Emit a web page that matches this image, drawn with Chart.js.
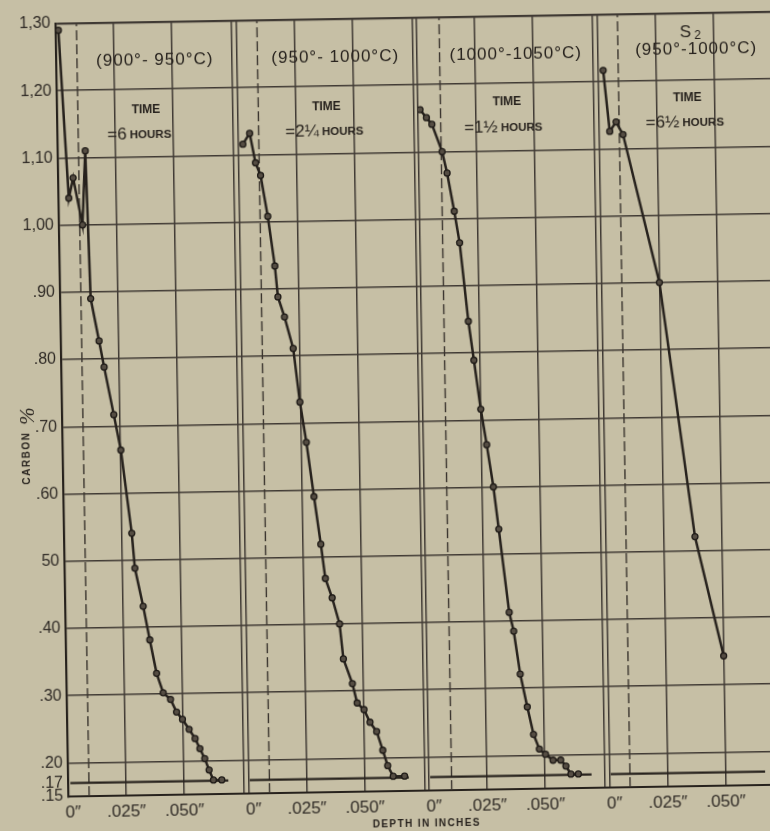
<!DOCTYPE html>
<html>
<head>
<meta charset="utf-8">
<script src="https://cdn.jsdelivr.net/npm/chart.js@4.4.1/dist/chart.umd.min.js"></script>
<style>
    html, body { margin: 0; padding: 0; width: 770px; height: 831px; overflow: hidden; background: #c6bfa5; }
    #wrap { position: absolute; left: 0; top: 0; width: 796px; height: 831px; transform: rotate(-0.95deg); transform-origin: 398px 415px; }
</style>
</head>
<body>
<div id="wrap"><canvas id="carbon-chart" width="796" height="831"></canvas></div>
<script>
// axis ticks
var yTickValues = [1.30, 1.20, 1.10, 1.00, 0.90, 0.80, 0.70, 0.60, 0.50, 0.40, 0.30, 0.20, 0.17, 0.15];
var yTickLabels = ['1,30', '1,20', '1,10', '1,00', '.90', '.80', '.70', '.60', '50', '.40', '.30', '.20', '.17', '.15'];
var xTickValues = [0, 0.025, 0.05];
var xTickLabels = ['  0\u2033', '.025\u2033', '.050\u2033'];

// panel texts
var panelTitles = ['(900\u00b0- 950\u00b0C)', '(950\u00b0- 1000\u00b0C)', '(1000\u00b0-1050\u00b0C)', '(950\u00b0-1000\u00b0C)'];
var panelTimes = ['=6', '=2\u00bc', '=1\u00bd', '=6\u00bd'];
var panelSamples = ['', '', '', 'S'];

// depth (inches) / carbon %
var depth1 = [0.0012, 0.0045, 0.0065, 0.0102, 0.0119, 0.0132, 0.0165, 0.0185, 0.0223, 0.0251, 0.0292, 0.0303, 0.0336, 0.0362, 0.0389, 0.0416, 0.0447, 0.0472, 0.0497, 0.0525, 0.0550, 0.0570, 0.0590, 0.0608, 0.0626, 0.0662];
var carbon1 = [1.29, 1.04, 1.07, 1.00, 1.11, 0.89, 0.827, 0.788, 0.717, 0.664, 0.54, 0.488, 0.431, 0.381, 0.331, 0.302, 0.292, 0.273, 0.262, 0.247, 0.233, 0.218, 0.203, 0.186, 0.171, 0.171];

var depth2 = [0.0021, 0.0051, 0.0074, 0.0095, 0.0123, 0.0150, 0.0161, 0.0188, 0.0223, 0.0248, 0.0273, 0.0302, 0.0328, 0.0345, 0.0373, 0.0403, 0.0417, 0.0454, 0.0473, 0.0502, 0.0527, 0.0555, 0.0580, 0.0600, 0.0623, 0.0672];
var carbon2 = [1.116, 1.132, 1.088, 1.069, 1.008, 0.934, 0.888, 0.858, 0.811, 0.731, 0.671, 0.590, 0.519, 0.468, 0.439, 0.400, 0.348, 0.311, 0.282, 0.272, 0.253, 0.239, 0.211, 0.188, 0.172, 0.172];

var depth3 = [0.0009, 0.0036, 0.0059, 0.0101, 0.0121, 0.0149, 0.0170, 0.0202, 0.0223, 0.0249, 0.0272, 0.0298, 0.0318, 0.0357, 0.0375, 0.0400, 0.0428, 0.0453, 0.0477, 0.0503, 0.0535, 0.0568, 0.0590, 0.0611, 0.0643];
var carbon3 = [1.163, 1.151, 1.141, 1.100, 1.068, 1.011, 0.964, 0.847, 0.789, 0.716, 0.663, 0.600, 0.537, 0.413, 0.385, 0.321, 0.272, 0.231, 0.209, 0.201, 0.192, 0.192, 0.183, 0.171, 0.171];

var depth4 = [0.0023, 0.0047, 0.0075, 0.0104, 0.0250, 0.0385, 0.0500];
var carbon4 = [1.217, 1.126, 1.140, 1.121, 0.900, 0.521, 0.343];

// core carbon line and case mark (dashed) in each panel
var coreCarbon = 0.17;
var coreStart = [0.001, 0.0005, 0.0005, 0.0005];
var coreEnd = [0.069, 0.069, 0.070, 0.067];
var caseMark = [0.009, 0.009, 0.0097, 0.0088];

// layout
var panelSpan = 0.0777;
var dividerDepth = 0.0758;
var ink = '#27221d';
var gridColor = '#403a34';
var labelColor = '#2f2a25';
var noteX = { title: 0.0425, time: 0.0383, hours: [0.0353, 0.0373, 0.0366, 0.0371], sample: 0.0397 };
var noteY = { title: [1.243, 1.243, 1.243, 1.246], time: [1.170, 1.170, 1.173, 1.174], hours: [1.133, 1.133, 1.134, 1.137], sample: 1.271 };

var depths = [depth1, depth2, depth3, depth4];
var carbons = [carbon1, carbon2, carbon3, carbon4];

function zip(xs, ys) {
    return xs.map(function (x, i) { return { x: x, y: ys[i] }; });
}

var datasets = [];
depths.forEach(function (d, i) {
    var axis = 'x' + (i + 1);
    datasets.push({
        xAxisID: axis, yAxisID: 'y', order: 1,
        data: zip(d, carbons[i]),
        borderColor: ink, borderWidth: 2.5,
        pointRadius: 3, pointBackgroundColor: '#554d43', pointBorderColor: '#1f1b17', pointBorderWidth: 1.3
    });
    datasets.push({
        xAxisID: axis, yAxisID: 'y', order: 2,
        data: [{ x: coreStart[i], y: coreCarbon }, { x: coreEnd[i], y: coreCarbon }],
        borderColor: ink, borderWidth: 2.2, pointRadius: 0
    });
    datasets.push({
        xAxisID: axis, yAxisID: 'y', order: 3,
        data: [{ x: caseMark[i], y: 0.15 }, { x: caseMark[i], y: 1.30 }],
        borderColor: '#3a342e', borderWidth: 1.4, borderDash: [10, 4], pointRadius: 0
    });
});

function depthAxis(i) {
    return {
        type: 'linear', position: 'bottom', stack: 'depth', stackWeight: 1,
        min: 0, max: panelSpan,
        afterBuildTicks: function (s) {
            s.ticks = xTickValues.concat([dividerDepth]).map(function (v) { return { value: v }; });
        },
        afterFit: function (s) { s.height = 40; },
        grid: { color: gridColor, lineWidth: 1.5, drawTicks: false },
        border: { display: true, color: ink, width: 2 },
        ticks: {
            autoSkip: false, maxRotation: 0, padding: 6, color: labelColor,
            font: { family: '"Liberation Sans", sans-serif', size: 17 },
            callback: function (v, idx) { return xTickLabels[idx] || ''; }
        }
    };
}

var notes = {
    id: 'notes',
    afterDatasetsDraw: function (chart) {
        var ctx = chart.ctx;
        var y = chart.scales.y;
        ctx.save();
        ctx.fillStyle = ink;
        ctx.textAlign = 'center';
        ctx.textBaseline = 'middle';
        panelTitles.forEach(function (title, i) {
            var xs = chart.scales['x' + (i + 1)];
            ctx.font = '17px "Liberation Sans", sans-serif';
            ctx.letterSpacing = '1px';
            ctx.fillText(title, xs.getPixelForValue(noteX.title), y.getPixelForValue(noteY.title[i]));

            ctx.font = 'bold 12px "Liberation Sans", sans-serif';
            ctx.letterSpacing = '0px';
            ctx.fillText('TIME', xs.getPixelForValue(noteX.time), y.getPixelForValue(noteY.time[i]));

            // "=6 HOURS" : big number, small bold word
            var big = '17px "Liberation Sans", sans-serif';
            var small = 'bold 11.5px "Liberation Sans", sans-serif';
            ctx.font = big;
            var w1 = ctx.measureText(panelTimes[i]).width;
            ctx.font = small;
            var w2 = ctx.measureText(' HOURS').width;
            var cx = xs.getPixelForValue(noteX.hours[i]);
            var cy = y.getPixelForValue(noteY.hours[i]);
            var left = cx - (w1 + w2) / 2;
            ctx.textAlign = 'left';
            ctx.font = big;
            ctx.fillText(panelTimes[i], left, cy);
            ctx.font = small;
            ctx.fillText(' HOURS', left + w1, cy + 0.5);
            ctx.textAlign = 'center';

            if (panelSamples[i]) {
                var sx = xs.getPixelForValue(noteX.sample);
                var sy = y.getPixelForValue(noteY.sample);
                ctx.font = '17px "Liberation Sans", sans-serif';
                ctx.fillText(panelSamples[i], sx - 4, sy);
                ctx.font = '12px "Liberation Sans", sans-serif';
                ctx.fillText('2', sx + 8, sy + 3);
            }
        });

        // axis titles
        ctx.font = 'bold 10px "Liberation Sans", sans-serif';
        ctx.letterSpacing = '1.4px';
        ctx.fillText('DEPTH IN INCHES', chart.scales.x2.right - 3, chart.chartArea.bottom + 33);

        ctx.save();
        ctx.translate(26.5, 452);
        ctx.rotate(-Math.PI / 2);
        ctx.letterSpacing = '1.5px';
        ctx.fillText('CARBON', 0, 0);
        ctx.restore();
        ctx.save();
        ctx.translate(28, 410);
        ctx.rotate(-Math.PI / 2);
        ctx.letterSpacing = '0px';
        ctx.font = 'italic 21px "Liberation Serif", serif';
        ctx.fillText('%', 0, 0);
        ctx.restore();
        ctx.restore();
    }
};

var chart = new Chart(document.getElementById('carbon-chart'), {
    type: 'line',
    data: { datasets: datasets },
    options: {
        responsive: false,
        animation: false,
        layout: { padding: { top: 18, right: 12, left: 0, bottom: 0 } },
        plugins: { legend: { display: false }, tooltip: { enabled: false } },
        scales: {
            y: {
                type: 'linear', position: 'left', min: 0.15, max: 1.30,
                afterBuildTicks: function (s) {
                    s.ticks = yTickValues.map(function (v) { return { value: v }; });
                },
                afterFit: function (s) { s.width = 62; },
                grid: {
                    drawTicks: false,
                    color: function (c) { return c.tick && c.tick.value === 0.17 ? 'rgba(0,0,0,0)' : gridColor; },
                    lineWidth: function (c) { return c.tick && c.tick.value === 1.30 ? 2.2 : 1.5; }
                },
                border: { display: true, color: ink, width: 2.2 },
                ticks: {
                    autoSkip: false, padding: 5, color: labelColor,
                    font: { family: '"Liberation Sans", sans-serif', size: 16 },
                    callback: function (v, idx) { return yTickLabels[idx]; }
                }
            },
            x1: depthAxis(0),
            x2: depthAxis(1),
            x3: depthAxis(2),
            x4: depthAxis(3)
        }
    },
    plugins: [notes]
});
</script>
</body>
</html>
